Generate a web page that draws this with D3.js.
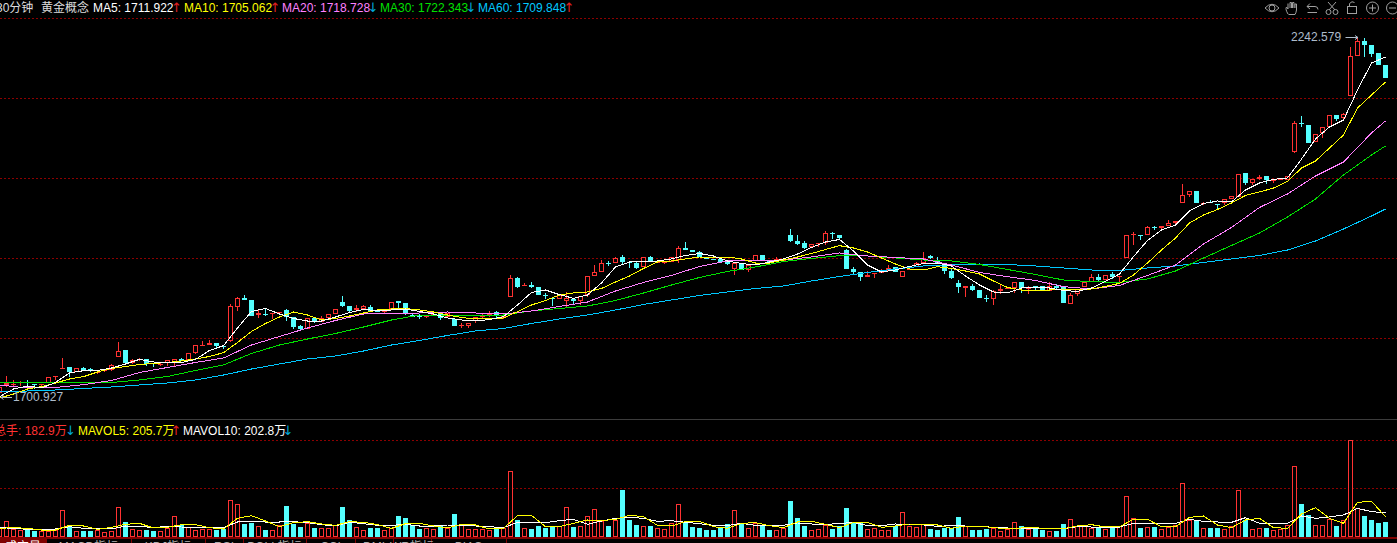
<!DOCTYPE html>
<html>
<head>
<meta charset="utf-8">
<script src="https://cdnjs.cloudflare.com/ajax/libs/d3/7.8.5/d3.min.js"></script>
<style>
html,body{margin:0;padding:0;background:#000;overflow:hidden}
svg{display:block;background:#000}
text{font-family:"Liberation Sans","Noto Sans CJK SC",sans-serif;font-size:12px}
text.arrow{font-family:"DejaVu Sans",sans-serif;font-size:13px;text-anchor:middle}
</style>
</head>
<body>
<svg id="chart" width="1397" height="543"></svg>
<script>
const open=[1706,1718,1718,1721,1722.5,1719.5,1718,1721,1730,1742,
1745,1737.5,1743.5,1742,1736,1739,1740.5,1760,1770.5,1751,
1755.5,1757,1751,1748,1751,1752.5,1757,1755.5,1766,1776.5,
1778,1781,1776.5,1784,1835,1848.5,1845.5,1823,1824.5,1824.5,
1826,1830.5,1820,1806.5,1802,1818.5,1812.5,1818.5,1824.5,1842.5,
1836.5,1830.5,1832,1835,1829,1827.5,1832,1844,1841,1823,
1821.5,1820,1821.5,1824.5,1820,1817,1806.5,1806.5,1814,1820,
1821.5,1827.5,1818.5,1850,1878.5,1866.5,1868,1865,1853,1848.5,
1847,1844,1847,1844,1853,1881.5,1887.5,1901,1901,1910,
1902.5,1901,1895,1910,1901,1901,1902.5,1905.5,1923.5,1920.5,
1917.5,1910,1907,1907,1902.5,1892,1899.5,1890.5,1904,1913,
1904,1905.5,1904,1943,1934,1931,1925,1929.5,1931,1946,
1943,1920.5,1892,1887.5,1880,1884.5,1886,1889,1895,1880,
1890.5,1895,1901,1911.5,1905.5,1901,1889,1871,1863.5,1866.5,
1860.5,1848.5,1847,1859,1862,1863.5,1872.5,1862,1866.5,1866.5,
1859,1866.5,1865,1839.5,1854.5,1865,1872.5,1880,1875.5,1884.5,
1880,1908.5,1943,1943,1943,1955,1953.5,1956.5,1961,1991,
2003,2009,1989.5,1992.5,1989.5,1991,1997,2000,2036,2021,
2027,2031.5,2024,2025.5,2025.5,2067.5,2111,2108,2082.5,2096,
2105,2123,2118.5,2151.5,2211.5,2234,2228,2216,2198];
const close=[1715,1721,1719.5,1722.5,1721,1718,1719.5,1730,1731.5,1743.5,
1737.5,1743.5,1740.5,1739,1737.5,1740.5,1748,1769,1751,1755.5,
1757,1749.5,1749.5,1749.5,1755.5,1757,1754,1766,1778,1778,
1781,1776.5,1775,1836.5,1848.5,1845.5,1821.5,1826,1823,1826,
1827.5,1820,1805,1802,1818.5,1812.5,1818.5,1824.5,1832,1836.5,
1829,1833.5,1836.5,1827.5,1827.5,1830.5,1842.5,1841,1826,1820,
1820,1821.5,1824.5,1818.5,1826,1806.5,1808,1811,1820,1821.5,
1824.5,1821.5,1821.5,1878.5,1865,1868,1865,1853,1851.5,1847,
1853,1848.5,1844,1851.5,1881.5,1887.5,1901,1899.5,1908.5,1902.5,
1901,1893.5,1910,1902.5,1902.5,1902.5,1910,1923.5,1920.5,1917.5,
1910,1907,1905.5,1902.5,1899.5,1901,1890.5,1898,1913,1904,
1902.5,1907,1907,1934,1929.5,1923.5,1929.5,1931,1946,1944.5,
1938.5,1892,1887.5,1880,1883,1886,1887.5,1893.5,1887.5,1889,
1892,1901,1908.5,1908.5,1901,1889,1878.5,1865,1866.5,1860.5,
1848.5,1847,1859,1862,1863.5,1872.5,1863.5,1863.5,1863.5,1860.5,
1866.5,1863.5,1841,1853,1862,1872.5,1880,1875.5,1883,1880,
1881.5,1943,1944.5,1941.5,1955,1953.5,1956.5,1961,1964,2003,
2009,1991,1991,1991,1988,1997,2001.5,2034.5,2021,2027,
2030,2025.5,2025.5,2027,2031.5,2111,2109.5,2081,2094.5,2105,
2123,2117,2124.5,2211.5,2234,2228,2214.5,2198,2178.5];
const high=[1716.5,1731.5,1725.5,1724,1725.5,1719.5,1719.5,1730,1731.5,1758.5,
1745,1743.5,1745,1743.5,1737.5,1742,1749.5,1782.5,1770.5,1757,
1758.5,1757,1751,1751,1755.5,1757,1758.5,1766,1778,1784,
1785.5,1781,1776.5,1839.5,1850,1853,1845.5,1832,1832,1826,
1827.5,1832,1820,1808,1818.5,1818.5,1821.5,1824.5,1832,1851.5,
1836.5,1838,1838,1838,1829,1830.5,1842.5,1844,1841,1824.5,
1824.5,1821.5,1824.5,1824.5,1826,1817,1811,1811,1820,1826,
1829,1829,1823,1883,1880,1871,1872.5,1865,1856,1848.5,
1853,1857.5,1847,1851.5,1881.5,1898,1905.5,1904,1910,1913,
1902.5,1902.5,1910,1911.5,1902.5,1902.5,1910,1926.5,1932.5,1920.5,
1919,1910,1907,1908.5,1902.5,1901,1899.5,1898,1913,1913,
1904,1910,1907,1952,1943,1934,1929.5,1931,1949,1947.5,
1943,1922,1895,1887.5,1889,1886,1892,1898,1895,1889,
1896.5,1902.5,1917.5,1913,1910,1901,1893.5,1875.5,1866.5,1869.5,
1860.5,1853,1860.5,1869.5,1863.5,1872.5,1872.5,1866.5,1866.5,1866.5,
1872.5,1869.5,1865,1856,1862,1872.5,1884.5,1884.5,1883,1887.5,
1881.5,1943,1947.5,1943,1956.5,1956.5,1956.5,1965.5,1964,2019.5,
2009,2009,1992.5,1995.5,1989.5,1997,2001.5,2034.5,2036,2027,
2033,2031.5,2025.5,2027,2031.5,2114,2121.5,2108,2094.5,2105,
2123,2123,2126,2225,2240,2238.5,2228,2216,2198];
const low=[1700.9,1715,1716.5,1716.5,1718,1712,1716.5,1721,1725.5,1742,
1730,1737.5,1739,1737.5,1734.5,1737.5,1739,1760,1749.5,1749.5,
1754,1746.5,1745,1746.5,1746.5,1745,1754,1755.5,1764.5,1776.5,
1778,1773.5,1772,1782.5,1829,1845.5,1821.5,1818.5,1821.5,1817,
1824.5,1814,1802,1800.5,1802,1811,1812.5,1818.5,1824.5,1835,
1826,1827.5,1830.5,1827.5,1827.5,1826,1832,1833.5,1823,1820,
1817,1818.5,1821.5,1815.5,1820,1806.5,1803.5,1803.5,1811,1817,
1820,1818.5,1817,1850,1863.5,1866.5,1863.5,1853,1847,1836.5,
1847,1835,1839.5,1838,1850,1881.5,1887.5,1896.5,1901,1899.5,
1893.5,1892,1895,1902.5,1901,1899.5,1902.5,1901,1920.5,1917.5,
1910,1907,1905.5,1902.5,1898,1883,1890.5,1887.5,1904,1904,
1902.5,1902.5,1904,1932.5,1928,1922,1925,1925,1928,1937,
1935.5,1892,1884.5,1874,1880,1878.5,1886,1889,1887.5,1880,
1890.5,1895,1901,1907,1901,1884.5,1877,1856,1850,1859,
1848.5,1842.5,1838,1854.5,1862,1856,1856,1854.5,1859,1860.5,
1859,1862,1841,1839.5,1851.5,1865,1872.5,1872.5,1875.5,1877,
1871,1908.5,1928,1935.5,1943,1950.5,1950.5,1956.5,1959.5,1991,
2000,1991,1988,1991,1982,1988,1997,2000,2018,2018,
2025.5,2019.5,2021,2025.5,2025.5,2066,2105,2081,2082.5,2088.5,
2105,2114,2114,2151.5,2211.5,2210,2210,2198,2178.5];
// short moving averages: read at every second bar
const ma5=[1700.5,1712,1716.5,1713.5,1721.8,1736,1739.5,1739.8,1743.5,1749.5,
1756.5,1752.5,1751,1751.8,1756.3,1769.8,1777,1803.5,1828.3,1832.8,
1824.5,1817.8,1814,1814,1820,1826.8,1831.3,1829.5,1830.5,1832,
1828.3,1824.5,1818.5,1815.5,1814,1816.3,1820.5,1838,1856.8,1860.5,
1853.5,1848,1853,1871,1895,1902.5,1903,1904,1907,1912.3,
1915.3,1911.5,1904,1900.3,1898,1902.5,1907,1914.5,1924.3,1932.5,
1936.3,1919,1898,1887.5,1890.5,1895.8,1900.3,1901,1896.5,1881.5,
1868,1857.5,1856,1863.5,1864.3,1863.5,1859.8,1858.3,1863.5,1873.3,
1884.5,1910.5,1934.8,1950.5,1958,1979,1990.3,1994,1992.5,2010.5,
2021,2026.5,2028.5,2057,2087,2105,2115.5,2160.5,2201,2210];
const ma10=[1698.5,1704.5,1712,1715.5,1721,1727,1730.5,1737.5,1742.8,1745.8,
1748.8,1750.3,1751.8,1754,1757,1760.8,1766.5,1781.8,1798.3,1810.3,
1820,1827.5,1823,1815.5,1817.8,1821.5,1826,1830.5,1832,1832.8,
1830.5,1827.5,1823,1819.3,1817,1817.8,1818.5,1828,1838,1844.8,
1853,1856,1857.5,1862.8,1872.5,1881.5,1892.8,1902.5,1904,1907,
1910,1910,1910,1907,1901,1901,1905.5,1910,1915.3,1921.3,
1927,1923.5,1917.5,1908.5,1899.5,1892,1890.5,1895.5,1892.8,1889,
1884.5,1874,1864.3,1860.5,1860.5,1860.5,1862,1860.5,1862,1865.8,
1870.5,1883,1901,1920.5,1938.5,1961,1973,1981.3,1991,2002.3,
2007.5,2013.5,2023.3,2043.5,2054,2073.5,2093,2133.5,2153,2172.5];
// long moving averages: read at every fourth bar, plus the last bar
const ma20=[1718,1713.5,1714.3,1718.5,1724.8,1736.8,1744.3,1751.8,1758.5,1778,
1790.8,1803.5,1814.8,1824.5,1825.3,1826,1827.5,1826,1824.5,1829,
1835.8,1842.5,1859,1871.8,1882.3,1895.8,1904,1904.5,1905.5,1910,
1916,1911.5,1909.3,1907,1898,1886.8,1880.5,1874.8,1865.5,1862,
1867.3,1882.3,1898,1929.5,1954.3,1984.3,2004.5,2031.5,2052.5,2096,2114];
const ma30=[1721.5,1721.5,1721.5,1721.5,1721.8,1725.5,1730.8,1739.8,1748,1765.3,
1778,1787,1795.3,1805,1815.5,1823,1823,1823,1823,1829,
1832.8,1836.5,1844.8,1856,1868,1879.3,1888.3,1895,1903.3,1907.8,
1912,1911.5,1908.5,1905.5,1904,1898.8,1891.3,1883.8,1875.5,1873,
1871.8,1877,1889,1908.5,1927.3,1946,1970,1997,2033,2063,2076.5];
const ma60=[1707.5,1709,1710.5,1712.8,1715,1718,1721,1725.5,1733,1742,
1749.5,1757,1761.5,1769,1778,1784.8,1792.3,1799,1802.8,1810.3,
1817,1823,1830.5,1838.8,1845.5,1852.3,1857.5,1862.8,1866.5,1874,
1880.8,1886.8,1892,1896.5,1898.8,1899.5,1898.8,1896.5,1893.5,1890.5,
1889.8,1893.5,1896.5,1901.8,1907,1912.3,1920.5,1934,1952,1971.5,1982];
// volume, in 万手
const volume=[120,192,96,84,84,72,72,72,84,324,
132,72,72,72,84,60,72,360,180,96,
84,84,72,72,108,252,144,120,84,96,
96,84,96,444,396,156,168,132,84,84,
144,372,156,120,168,108,108,108,144,360,
204,120,84,108,108,84,108,252,228,144,
96,108,96,132,108,276,144,96,96,96,
84,96,108,792,204,108,96,132,108,120,
132,360,120,132,252,336,192,132,204,564,
204,144,132,132,108,96,168,396,180,120,
108,84,84,120,156,324,168,108,168,144,
84,84,108,432,228,132,84,96,144,96,
132,348,180,168,96,108,84,84,132,300,
132,120,156,96,84,108,108,240,132,84,
84,96,108,72,96,180,132,96,108,84,
72,72,156,216,132,132,108,120,96,108,
132,492,228,108,120,120,96,120,144,648,
204,192,108,108,108,96,132,564,204,96,
108,108,84,96,144,852,396,264,144,144,
216,132,204,1164,348,252,204,168,182.9];
const mavol5=[104,112,104,84,84,140,132,92,116,152,164,108,116,148,148,112,96,224,256,192,124,172,184,156,140,184,
176,148,104,160,164,132,108,152,144,96,104,256,260,124,124,164,204,196,212,260,244,140,132,184,188,
124,104,164,172,136,112,180,188,152,112,176,176,116,132,156,156,144,104,132,132,112,100,108,112,96,
100,132,148,120,124,212,212,124,124,236,252,144,112,204,224,112,104,276,352,224,164,416,428,244];
const mavol10=[112,104,92,96,96,124,104,100,96,132,124,116,124,120,116,112,112,180,184,180,180,184,172,148,132,176,
160,140,140,152,132,132,144,144,132,124,112,176,172,172,196,212,152,192,224,236,224,188,196,176,160,
140,136,164,140,140,140,168,156,152,160,176,136,136,156,148,144,128,136,132,128,116,108,104,104,100,
100,124,120,120,120,164,164,164,164,212,188,180,176,232,164,160,164,252,224,240,264,344,304,292];
const priceGrid=[2267.75,2147.75,2027.75,1907.75,1787.75];
const volumeGrid=[1164,582];
const maTitles=[["MA5: 1711.922","↑"],["MA10: 1705.062","↑"],["MA20: 1718.728","↓"],["MA30: 1722.343","↓"],["MA60: 1709.848","↑"]];
const volTitles=[["总手: 182.9万","↓"],["MAVOL5: 205.7万","↑"],["MAVOL10: 202.8万","↓"]];
const tabLabels=["成交量","MACD指标","KDJ指标","RSI","BOLL指标","CCI","DMI","WR指标","BIAS"];
const highLabel="2242.579", lowLabel="1700.927";

const RED="#ff3232", CYAN="#54ffff", GRID="#8c0000";
const svg=d3.select("#chart");
const n=open.length;
const x=d3.scaleLinear().domain([0,n-1]).range([-0.5,1385.5]);
const y=d3.scaleLinear().domain([1700,2240]).range([397,37]);
const yv=d3.scaleLinear().domain([0,1164]).range([537,440]);
const idxShort=d3.range(0,n,2);
const idxLong=d3.range(0,197,4).concat([198]);

// grids
const grid=svg.append("g").attr("shape-rendering","crispEdges");
grid.selectAll(".g1").data(priceGrid).join("line").attr("class","g1").attr("x1",0).attr("x2",1397)
 .attr("y1",d=>Math.floor(y(d)+0.01)+0.5).attr("y2",d=>Math.floor(y(d)+0.01)+0.5)
 .attr("stroke",GRID).attr("stroke-dasharray","2 2");
grid.selectAll(".g2").data(volumeGrid).join("line").attr("class","g2").attr("x1",0).attr("x2",1397)
 .attr("y1",d=>Math.floor(yv(d))+0.5).attr("y2",d=>Math.floor(yv(d))+0.5)
 .attr("stroke",GRID).attr("stroke-dasharray","2 2");
grid.append("line").attr("x1",0).attr("x2",1397).attr("y1",419.5).attr("y2",419.5).attr("stroke","#3c3c3c");

// candles
const cg=svg.append("g").attr("shape-rendering","crispEdges");
d3.range(n).forEach(i=>{
  const up=close[i]>=open[i], col=up?RED:CYAN, c=x(i);
  const top=Math.round(y(Math.max(open[i],close[i]))), bot=Math.round(y(Math.min(open[i],close[i])));
  const hi=Math.round(y(high[i])), lo=Math.round(y(low[i]));
  if(hi<top) cg.append("rect").attr("x",c-0.5).attr("width",1).attr("y",hi).attr("height",top-hi).attr("fill",col);
  if(lo>bot) cg.append("rect").attr("x",c-0.5).attr("width",1).attr("y",bot).attr("height",lo-bot).attr("fill",col);
  if(up&&bot-top>=3){
    cg.append("rect").attr("x",c-2).attr("width",4).attr("y",top+0.5).attr("height",bot-top-1).attr("fill","#000").attr("stroke",col);
  } else {
    cg.append("rect").attr("x",c-2.5).attr("width",5).attr("y",top).attr("height",Math.max(1,bot-top)).attr("fill",col);
  }
});

// volume bars
const vg=svg.append("g").attr("shape-rendering","crispEdges");
volume.forEach((v,i)=>{
  const up=close[i]>=open[i], c=x(i), t=Math.round(yv(v));
  if(up) vg.append("rect").attr("x",c-2).attr("width",4).attr("y",t+0.5).attr("height",537-t-1).attr("fill","#000").attr("stroke",RED);
  else vg.append("rect").attr("x",c-2.5).attr("width",5).attr("y",t).attr("height",537-t).attr("fill",CYAN);
});

// lines
function drawLine(vals,idx,sc,col){
  const g=d3.line().x((d,k)=>x(idx[k])).y(d=>sc(d));
  svg.append("path").datum(vals).attr("d",g).attr("fill","none").attr("stroke",col).attr("stroke-width",1).attr("shape-rendering","crispEdges");
}
drawLine(ma60,idxLong,y,"#00c8ff");
drawLine(ma30,idxLong,y,"#00e000");
drawLine(ma20,idxLong,y,"#ff80ff");
drawLine(ma10,idxShort,y,"#ffff00");
drawLine(ma5,idxShort,y,"#ffffff");
drawLine(mavol10,idxShort,yv,"#ffffff");
drawLine(mavol5,idxShort,yv,"#ffff00");

// high / low markers
const LBL="#aebccb";
svg.append("text").attr("x",1291).attr("y",41).attr("fill",LBL).text(highLabel);
svg.append("path").attr("d","M1345.5 37.5H1358M1355 35.5L1358 37.5L1355 39.5").attr("stroke",LBL).attr("fill","none");
svg.append("text").attr("x",13).attr("y",401).attr("fill",LBL).text(lowLabel);
svg.append("path").attr("d","M12 397.5H1M3.5 395.5L1 397.5L3.5 399.5").attr("stroke",LBL).attr("fill","none");

// header titles
const ARU="#e02020", ARD="#00a8d8";
svg.append("text").attr("x",-4).attr("y",12).attr("fill","#dcdcdc").text("30分钟");
svg.append("text").attr("x",41).attr("y",12).attr("fill","#dcdcdc").text("黄金概念");
const maColors=["#ffffff","#ffff00","#ff80ff","#00e000","#00c8ff"];
const maX=[93,184,282,380,478], maArrow=[176.5,275,373,471,569];
maTitles.forEach((t,k)=>{
  svg.append("text").attr("x",maX[k]).attr("y",12).attr("fill",maColors[k]).text(t[0]);
  svg.append("text").attr("class","arrow").attr("x",maArrow[k]).attr("y",12).attr("fill",t[1]==="↑"?ARU:ARD).text(t[1]);
});
const volColors=["#ff3232","#ffff00","#ffffff"], volX=[-6,78,183], volArrow=[70.5,176,288];
volTitles.forEach((t,k)=>{
  svg.append("text").attr("x",volX[k]).attr("y",435).attr("fill",volColors[k]).text(t[0]);
  svg.append("text").attr("class","arrow").attr("x",volArrow[k]).attr("y",435).attr("fill",t[1]==="↑"?ARU:ARD).text(t[1]);
});

// bottom tab strip (cut off by the window edge)
const tabEdges=[0,46,131,205,243,306,355,393,431,506];
const tg=svg.append("g").attr("shape-rendering","crispEdges");
tg.append("rect").attr("x",0).attr("y",537).attr("width",1397).attr("height",2).attr("fill","#800000");
tg.append("rect").attr("x",0).attr("y",539).attr("width",46).attr("height",4).attr("fill","#800000");
tabEdges.slice(1).forEach(e=>tg.append("rect").attr("x",e).attr("y",539).attr("width",1).attr("height",4).attr("fill","#800000"));
tabLabels.forEach((t,k)=>{
  svg.append("text").attr("x",(tabEdges[k]+tabEdges[k+1])/2).attr("y",551).attr("text-anchor","middle")
    .attr("fill",k===0?"#ffffff":"#b0b0b0").text(t);
});

// toolbar icons
const ic=svg.append("g").attr("fill","none").attr("stroke","#a0a0a0").attr("stroke-width",1);
ic.append("path").attr("d","M1265 8Q1272 0.5 1279 8Q1272 15.5 1265 8Z");
ic.append("circle").attr("cx",1272).attr("cy",8).attr("r",3);
ic.append("path").attr("d","M1288 14Q1285 9 1286.5 7L1288 9V3.5M1290 8V2.5H1291.5V8M1292.5 8V2.5H1294V8M1295 8V4H1296.5V10Q1296 13 1295 14.5H1288.5");
ic.append("path").attr("d","M1317 12.5H1307.5M1307 6.5H1315Q1318 6.5 1318 9.5M1307 6.5L1310 3.5M1307 6.5L1310 9");
ic.append("path").attr("d","M1328 2L1335 10M1336 2L1329 10");
ic.append("circle").attr("cx",1328.5).attr("cy",12).attr("r",2.5);
ic.append("circle").attr("cx",1335.5).attr("cy",12).attr("r",2.5);
ic.append("rect").attr("x",1347.5).attr("y",6.5).attr("width",9).attr("height",7);
ic.append("path").attr("d","M1349.5 6.5V3.5Q1352 0.5 1354.5 2.5");
ic.append("circle").attr("cx",1372.5).attr("cy",8).attr("r",6);
ic.append("path").attr("d","M1369 8H1376M1372.5 4.5V11.5");
ic.append("circle").attr("cx",1392.5).attr("cy",8).attr("r",6);
ic.append("path").attr("d","M1389 8H1396");
</script>
</body>
</html>
